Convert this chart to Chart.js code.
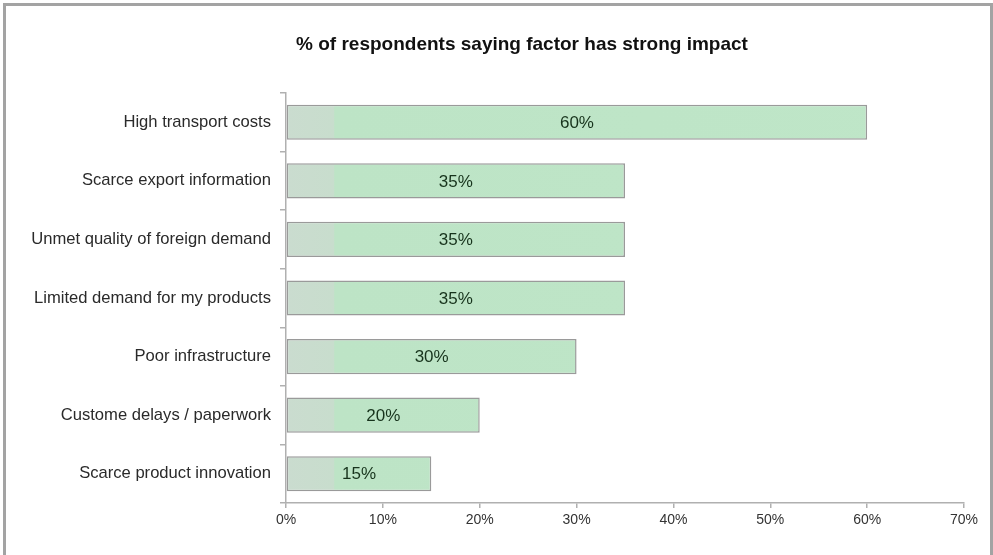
<!DOCTYPE html>
<html>
<head>
<meta charset="utf-8">
<script src="https://cdn.jsdelivr.net/npm/chart.js@4"></script>
<style>
  body { margin: 0; background: #fff; }
  #wrap { position: relative; width: 993px; height: 555px; }
  #frame {
    position: absolute; left: 3px; top: 3px; width: 984px; height: 552px;
    border-top: 3px solid #a3a3a3; border-left: 3px solid #a3a3a3; border-right: 3px solid #a3a3a3;
    pointer-events: none;
  }
</style>
</head>
<body>
<div id="wrap">
  <canvas id="chart" width="993" height="555"></canvas>
  <div id="frame"></div>
</div>
<script>
// factors and share of respondents (%)
const factors = [
  "High transport costs",
  "Scarce export information",
  "Unmet quality of foreign demand",
  "Limited demand for my products",
  "Poor infrastructure",
  "Custome delays / paperwork",
  "Scarce product innovation"
];
const shares = [60, 35, 35, 35, 30, 20, 15];
const xTicks = [0, 10, 20, 30, 40, 50, 60, 70];
const chartTitle = '% of respondents saying factor has strong impact';

const FONT = '"Liberation Sans", Arial, sans-serif';

// heading, drawn a bit right of the canvas centre
const heading = {
  id: 'heading',
  afterDraw(chart) {
    const ctx = chart.ctx;
    ctx.save();
    ctx.font = 'bold 19px ' + FONT;
    ctx.fillStyle = '#111';
    ctx.textAlign = 'center';
    ctx.textBaseline = 'middle';
    ctx.fillText(chartTitle, 522, 45);
    ctx.restore();
  }
};

// writes the value in the middle of each bar
const barLabels = {
  id: 'barLabels',
  afterDatasetsDraw(chart) {
    const ctx = chart.ctx;
    const meta = chart.getDatasetMeta(0);
    ctx.save();
    ctx.font = '17px ' + FONT;
    ctx.fillStyle = '#17331c';
    ctx.textAlign = 'center';
    ctx.textBaseline = 'middle';
    meta.data.forEach(function (bar, i) {
      ctx.fillText(shares[i] + '%', (bar.x + bar.base) / 2, bar.y + 1);
    });
    ctx.restore();
  }
};

function barFill(context) {
  const area = context.chart.chartArea;
  if (!area) return '#bfe4c8';
  const g = context.chart.ctx.createLinearGradient(area.left, 0, area.right, 0);
  g.addColorStop(0, '#cadccf');
  g.addColorStop(0.07, '#c8ddcd');
  g.addColorStop(0.072, '#bde4c6');
  g.addColorStop(1, '#bfe6c8');
  return g;
}

const ctx = document.getElementById('chart').getContext('2d');

new Chart(ctx, {
  type: 'bar',
  data: {
    labels: factors,
    datasets: [{
      data: shares,
      backgroundColor: barFill,
      borderColor: '#9a9a9a',
      borderWidth: 1.5,
      borderSkipped: false,
      categoryPercentage: 1,
      barPercentage: 0.6
    }]
  },
  options: {
    indexAxis: 'y',
    responsive: false,
    animation: false,
    layout: { padding: { left: 20, right: 29, top: 93, bottom: 22 } },
    plugins: {
      legend: { display: false },
      tooltip: { enabled: false },
      title: { display: false }
    },
    scales: {
      x: {
        min: 0,
        max: 70,
        afterBuildTicks: function (scale) {
          scale.ticks = xTicks.map(v => ({ value: v }));
        },
        afterFit: function (scale) { scale.height = 30; },
        border: { color: '#b0b0b0', width: 1.5 },
        grid: { drawOnChartArea: false, color: '#b0b0b0', tickLength: 5, lineWidth: 1.5 },
        ticks: {
          color: '#333',
          padding: 4,
          font: { family: FONT, size: 14 },
          callback: v => v + '%'
        }
      },
      y: {
        afterFit: function (scale) { scale.width = 266; },
        border: { color: '#b0b0b0', width: 1.5 },
        grid: { drawOnChartArea: false, color: '#b0b0b0', tickLength: 6, lineWidth: 1.5 },
        ticks: {
          color: '#2a2a2a',
          padding: 9,
          font: { family: FONT, size: 16.6 }
        }
      }
    }
  },
  plugins: [barLabels, heading]
});
</script>
</body>
</html>
